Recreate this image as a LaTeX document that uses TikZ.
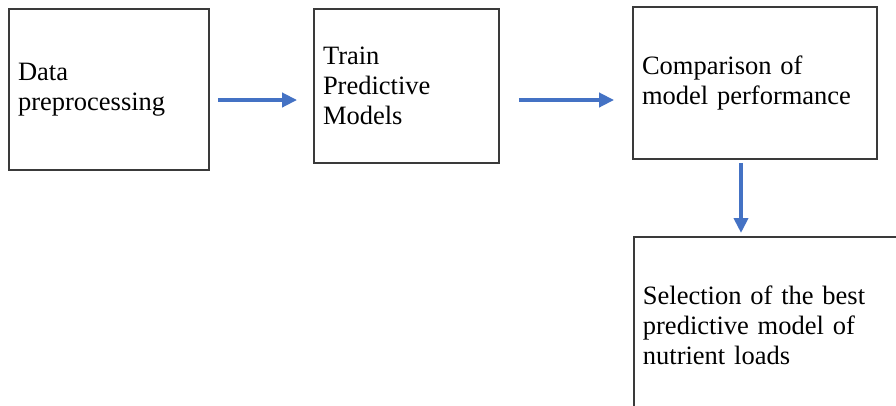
\documentclass[tikz,border=0pt]{standalone}
\usepackage{fontspec}
\setmainfont{Liberation Serif}
\usetikzlibrary{arrows.meta,calc}

\definecolor{flowblue}{HTML}{4472C4}
\definecolor{boxline}{HTML}{3A3A3A}

\tikzset{
  stepbox/.style={draw=boxline, line width=1.8pt, fill=white,
    align=left, inner xsep=9pt, inner ysep=0pt,
    font=\fontsize{26.5}{30}\selectfont},
  flow/.style={draw=flowblue, line width=4.2pt,
    -{Triangle[length=15pt,width=14pt]}}
}

\begin{document}
\begin{tikzpicture}[x=1pt,y=-1pt]
  \useasboundingbox (0,0) rectangle (896,405);
  \clip (0,0) rectangle (896,405);

  % process boxes
  \node[stepbox, minimum width=200pt, minimum height=161pt, text width=182pt]
    (prep) at (109,89.5) {Data\\preprocessing};
  \node[stepbox, minimum width=185pt, minimum height=154pt, text width=167pt]
    (train) at (406.5,86) {Train\\Predictive\\Models};
  \node[stepbox, minimum width=244pt, minimum height=152pt, text width=226pt]
    (comp) at (755,83) {Comparison of\\model performance};
  \node[stepbox, anchor=north west, minimum width=290pt, minimum height=176pt,
    text width=272pt]
    (select) at (633,236) {Selection of the best\\predictive model of\\nutrient loads};

  % connectors
  \draw[flow, shorten <=8pt, shorten >=16pt] (prep.east |- 0,100) -- (train.west |- 0,100);
  \draw[flow, shorten <=19pt, shorten >=18pt] (train.east |- 0,100) -- (comp.west |- 0,100);
  \draw[flow, shorten <=3pt, shorten >=3pt] (comp.south -| 741,0) -- (select.north -| 741,0);
\end{tikzpicture}
\end{document}
